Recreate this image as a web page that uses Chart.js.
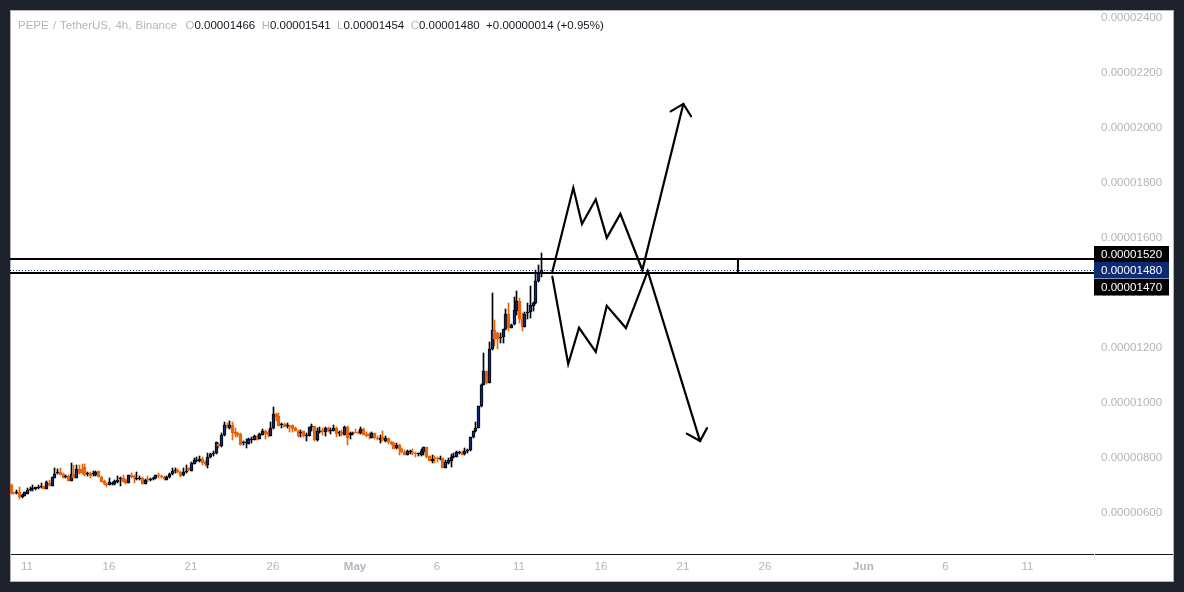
<!DOCTYPE html>
<html><head><meta charset="utf-8">
<script src="https://cdn.jsdelivr.net/npm/chart.js@4"></script>
<style>
html,body{margin:0;padding:0;background:#1e222d;width:1184px;height:592px;overflow:hidden}
canvas{position:absolute;left:0;top:0}
#legend{position:absolute;left:18px;top:17px;font:11.5px "Liberation Sans",Arial,sans-serif;color:#131722;white-space:pre;line-height:16px}
#legend .g{color:#b2b5be}
#legend .t{word-spacing:1px}
</style></head><body>
<canvas id="c" width="1184" height="592"></canvas>
<div id="legend"><span class="g t">PEPE / TetherUS, 4h, Binance  O</span>0.00001466  <span class="g">H</span>0.00001541  <span class="g">L</span>0.00001454  <span class="g">C</span>0.00001480  +0.00000014 (+0.95%)</div>
<script>
// Prices are in units of 0.00000001 USDT. One candle every 4 hours.
const opens=[698,670,670,672,653,660,667,681,682,682,
687,691,693,685,707,696,725,742,745,737,
727,731,714,738,724,756,756,765,737,742,
738,735,748,726,713,702,699,703,703,708,
719,722,715,707,735,730,720,720,725,703,
720,716,719,725,735,731,726,718,727,737,
749,752,747,733,745,759,750,776,785,784,
792,781,772,799,811,813,846,840,879,916,
905,918,890,889,884,850,852,849,861,863,
878,867,881,893,891,878,904,956,950,916,
920,914,914,915,904,895,887,893,876,878,
910,912,862,891,898,891,907,893,896,905,
886,892,881,910,879,884,890,889,886,902,
884,882,870,886,870,863,874,859,868,855,
852,834,842,828,819,809,818,819,816,811,
807,819,835,802,785,795,794,792,795,761,
777,787,800,801,816,818,810,823,824,872,
893,907,984,1063,1112,1069,1192,1261,1250,1234,
1235,1264,1320,1270,1282,1332,1366,1301,1274,1324,
1329,1350,1359,1440,1466];
const highs=[701,672,680,690,664,674,686,690,698,692,
698,704,695,713,716,729,759,755,759,743,
735,733,777,771,771,770,773,775,747,744,
750,750,750,731,716,704,722,710,716,731,
726,735,719,736,741,735,747,731,727,719,
731,722,729,735,741,735,731,731,741,759,
759,755,750,759,771,761,783,795,801,804,
799,786,816,816,823,853,850,886,929,925,
932,927,907,890,886,859,864,868,872,880,
880,889,901,898,898,927,982,959,959,925,
922,922,916,916,908,898,898,893,886,908,
920,913,904,908,904,908,908,904,916,908,
896,898,913,913,892,892,901,896,908,904,
892,886,891,889,876,880,895,876,870,859,
856,850,847,832,825,825,825,828,819,816,
828,836,836,805,807,804,799,804,796,789,
795,811,813,823,822,821,832,829,874,896,
929,986,1065,1177,1113,1217,1395,1298,1256,1250,
1264,1337,1359,1284,1381,1402,1377,1322,1329,1361,
1422,1365,1480,1498,1541];
const lows=[664,664,664,647,652,658,666,678,678,680,
684,686,684,684,695,695,725,738,733,724,
722,713,713,724,724,738,738,731,731,724,
731,731,726,708,698,691,697,699,698,704,
695,708,702,704,722,707,716,716,702,702,
708,713,716,721,724,722,716,715,725,735,
743,743,726,731,743,750,749,775,782,783,
771,769,761,795,804,811,832,838,878,904,
903,862,872,874,844,842,834,847,852,862,
863,864,880,867,872,876,902,932,913,907,
908,906,890,890,895,874,874,874,858,876,
896,859,859,886,880,876,892,882,893,874,
876,876,880,844,864,880,886,884,884,879,
874,864,869,864,862,852,859,856,847,844,
828,829,807,813,807,807,810,807,801,804,
805,807,796,784,779,777,782,789,760,759,
775,765,795,799,811,807,806,813,823,868,
892,906,983,1062,1066,1068,1189,1204,1193,1216,
1216,1262,1259,1268,1281,1315,1289,1259,1272,1301,
1304,1332,1356,1438,1454];
const closes=[668,667,673,656,662,672,680,684,685,691,
690,693,685,710,695,726,738,744,736,725,
730,714,738,724,755,741,743,736,740,731,
741,745,726,710,701,698,708,705,713,715,
721,710,705,735,726,722,722,722,703,716,
716,719,725,733,730,726,719,729,738,749,
752,747,731,744,750,753,778,788,788,793,
777,775,799,810,813,853,841,880,918,905,
915,886,884,880,845,852,855,864,863,876,
863,884,893,882,879,904,956,947,914,919,
910,916,910,901,896,876,890,876,879,908,
913,862,895,893,890,905,895,896,905,882,
889,882,908,870,886,886,888,886,901,881,
875,876,887,868,865,870,862,870,853,846,
830,844,828,818,809,821,821,816,810,813,
822,835,799,785,793,792,792,794,761,781,
789,799,802,818,818,809,823,826,873,893,
907,984,1062,1113,1068,1192,1261,1229,1230,1236,
1264,1320,1268,1281,1333,1366,1303,1274,1321,1326,
1352,1359,1439,1470,1480];

// X axis: days counted from 11 April
const firstCandleDay=-1, candlesPerDay=6;
const tickDays=[0,5,10,15,20,25,30,35,40,45,51,56,61];
const tickLabels=['11','16','21','26','May','6','11','16','21','26','Jun','6','11'];
const priceTicks=[600,800,1000,1200,1400,1600,1800,2000,2200,2400];
const xRange=[-1.037,65.06], yRange=[447.3,2425.5];

// Drawn levels and the scenario paths
const resistance=1520, support=1470, lastPrice=1480;
const levelDays=xRange;
const measureDay=43.35;
const upDays=[32.03,33.31,33.84,34.68,35.35,36.18,37.52,40.02];
const upPrices=[1474,1779,1647,1737,1597,1684,1480,2084];
const upHeadDays=[39.25,40.02,40.49];
const upHeadPrices=[2057,2084,2039];
const downDays=[32.03,33.0,33.66,34.68,35.35,36.52,37.85,41.04];
const downPrices=[1456,1138,1270,1182,1350,1269,1476,858];
const downHeadDays=[40.23,41.04,41.46];
const downHeadPrices=[885,858,905];

const BLUE='#0d2a75',ORANGE='#ec6408',INK='#131722',GREY='#b2b5be',DARK='#1e222d';
const FAMILY='"Liberation Sans",Arial,sans-serif';
const fmt=v=>(v/1e8).toFixed(8);
const isUp=i=>closes[i]>=opens[i];
const days=opens.map((_,i)=>firstCandleDay+i/candlesPerDay);
const pairs=(xs,ys)=>xs.map((x,i)=>({x,y:ys[i]}));
const pen=(data,extra)=>Object.assign({type:'line',data,borderColor:'#000',borderWidth:2.2,pointRadius:0,tension:0,fill:false,order:1,borderCapStyle:'round',borderJoinStyle:'miter'},extra||{});

// Keep candles and level lines on whole device pixels, as the original renderer does
const snap={id:'snap',afterDatasetsUpdate(ch){
 ch.getSortedVisibleDatasetMetas().forEach(m=>{
  if(m.type==='bar'){
   m.data.forEach(el=>{el.x=Math.round(el.x)+0.5;el.y=Math.round(el.y);el.base=Math.round(el.base);
    if(el.y===el.base)el.base=el.y+1;});
  }else if(m.label==='level'){m.data.forEach(p=>{p.y=Math.round(p.y);});}
  else if(m.label==='last'){m.data.forEach(p=>{p.y=Math.floor(p.y)+0.5;});}
 });}};

const frame={id:'frame',
 beforeDraw(ch){const c=ch.ctx;c.save();c.fillStyle=DARK;c.fillRect(0,0,1184,592);
  c.fillStyle='#fff';c.fillRect(10,10,1164,572);
  c.strokeStyle=GREY;c.lineWidth=1;c.strokeRect(10.5,10.5,1163,571);c.restore();},
 afterDraw(ch){const c=ch.ctx,a=ch.chartArea,y=ch.scales.y;c.save();
  c.fillStyle=INK;c.fillRect(11,Math.round(a.bottom),a.right-11,1);
  c.fillRect(a.right+1,Math.round(a.bottom),1173-a.right-1,1);
  c.font='11.6px '+FAMILY;c.textBaseline='middle';c.textAlign='left';
  [[resistance,-5,'#000'],[lastPrice,0,BLUE],[support,14.5,'#000']].forEach(([v,off,col])=>{
    const py=y.getPixelForValue(v)+off;
    c.fillStyle=col;c.fillRect(a.right,Math.round(py-8),75,16.5);
    c.fillStyle='#fff';c.fillText(fmt(v),a.right+7,py+0.5);});
  c.restore();}};

new Chart(document.getElementById('c'),{
 data:{datasets:[
  {type:'bar',label:'wicks',data:days.map((x,i)=>({x,y:[lows[i],highs[i]]})),grouped:false,barThickness:1,
   backgroundColor:opens.map((_,i)=>isUp(i)?'#000':ORANGE),order:4},
  {type:'bar',label:'bodies',data:days.map((x,i)=>({x,y:[opens[i],closes[i]]})),grouped:false,barThickness:3,minBarLength:1,
   backgroundColor:opens.map((_,i)=>isUp(i)?BLUE:ORANGE),borderColor:opens.map((_,i)=>isUp(i)?'#000':ORANGE),borderWidth:1,borderSkipped:false,order:3},
  pen(pairs(levelDays,[resistance,resistance]),{label:'level',borderCapStyle:'butt',borderWidth:2}),
  pen(pairs(levelDays,[support,support]),{label:'level',borderCapStyle:'butt',borderWidth:2}),
  pen(pairs(levelDays,[lastPrice,lastPrice]),{label:'last',borderColor:BLUE,borderWidth:1,borderDash:[1,2],borderCapStyle:'butt',order:0}),
  pen(pairs([measureDay,measureDay],[resistance,support]),{borderCapStyle:'butt',borderWidth:2}),
  pen(pairs(upDays,upPrices)),
  pen(pairs(upHeadDays,upHeadPrices)),
  pen(pairs(downDays,downPrices)),
  pen(pairs(downHeadDays,downHeadPrices))
 ]},
 options:{responsive:false,animation:false,devicePixelRatio:1,
  layout:{padding:{left:10,top:10,right:10,bottom:10}},
  plugins:{legend:{display:false},tooltip:{enabled:false}},
  scales:{
   x:{type:'linear',min:xRange[0],max:xRange[1],offset:false,
    grid:{display:false,drawTicks:false},border:{display:false},
    afterBuildTicks(s){s.ticks=tickDays.map(value=>({value}));},
    afterFit(s){s.height=28;s.paddingLeft=0;s.paddingRight=0;},
    ticks:{autoSkip:false,maxRotation:0,padding:6,color:GREY,
     font:ctx=>({family:FAMILY,size:11.6,weight:(ctx.index===4||ctx.index===10)?'bold':'normal'}),
     callback:(v,i)=>tickLabels[i]}},
   y:{type:'linear',position:'right',min:yRange[0],max:yRange[1],
    grid:{display:false,drawTicks:false},border:{display:false},
    afterBuildTicks(s){s.ticks=priceTicks.map(value=>({value}));},
    afterFit(s){s.width=80;s.paddingTop=0;s.paddingBottom=0;},
    ticks:{autoSkip:false,padding:7,labelOffset:1,color:GREY,font:{family:FAMILY,size:11.6},callback:v=>fmt(v)}}
  }},
 plugins:[frame,snap]
});
</script>
</body></html>
